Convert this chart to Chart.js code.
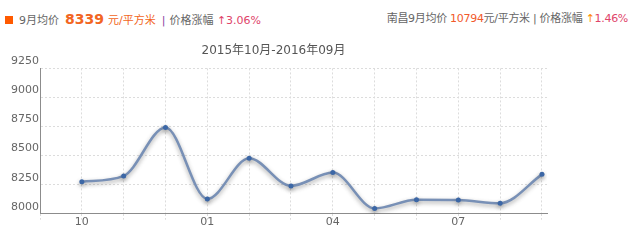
<!DOCTYPE html>
<html>
<head>
<meta charset="utf-8">
<script src="https://cdn.jsdelivr.net/npm/chart.js@4/dist/chart.umd.min.js"></script>
<style>
  body { margin: 0; background: #fff; width: 637px; height: 240px; overflow: hidden; position: relative;
         font-family: "DejaVu Sans", "Noto Sans CJK SC", sans-serif; }
  #chart-wrap { position: absolute; left: 0; top: 0; width: 637px; height: 240px; }
  .hdr { position: absolute; top: 10px; font-size: 11px; color: #666; white-space: nowrap; line-height: 18px; }
  #hdr-left { left: 5px; }
  #hdr-right { right: 9px; letter-spacing: -0.3px; }
  .sq { display: inline-block; width: 8px; height: 8px; background: #ff5a00; margin-right: 6px; vertical-align: 0px; }
  .big { font-weight: bold; font-size: 14px; color: #f26522; margin: 0 4px 0 6px; }
  .unit { color: #f26522; }
  .bar { color: #8a3fa0; margin: 0 4px 0 6px; }
  .up { color: #e0446a; }
  .up2 { color: #ff8a00; }
  .num2 { color: #f25a2a; }
</style>
</head>
<body>
<div class="hdr" id="hdr-left"><span class="sq"></span>9月均价<span class="big">8339</span><span class="unit">元/平方米</span><span class="bar">|</span>价格涨幅 <span class="up">↑3.06%</span></div>
<div class="hdr" id="hdr-right">南昌9月均价 <span class="num2">10794</span>元/平方米 | 价格涨幅 <span class="up2">↑</span><span class="up">1.46%</span></div>
<div id="chart-wrap"><canvas id="line-chart" width="637" height="240"></canvas></div>
<script>
  // 2015年10月 ~ 2016年09月 月均价
  var months = ["10", "11", "12", "01", "02", "03", "04", "05", "06", "07", "08", "09"];
  var prices = [8276, 8326, 8742, 8128, 8477, 8240, 8354, 8046, 8120, 8118, 8091, 8339];
  var shownMonths = ["10", "01", "04", "07"];
  var yTicks = [8000, 8250, 8500, 8750, 9000, 9250];

  var points = prices.map(function(v, i) { return { x: i + 1, y: v }; });

  // 선 그림자
  var shadow = {
    id: 'shadow',
    beforeDatasetDraw: function(chart) {
      var ctx = chart.ctx;
      ctx.save();
      ctx.shadowColor = 'rgba(60,60,60,0.45)';
      ctx.shadowBlur = 4;
      ctx.shadowOffsetY = 2;
    },
    afterDatasetDraw: function(chart) {
      chart.ctx.restore();
    }
  };

  var data_ = {
    datasets: [{
      data: points,
      borderColor: "#7890b6",
      borderWidth: 2.5,
      cubicInterpolationMode: 'monotone',
      fill: false,
      pointRadius: 2.5,
      pointBackgroundColor: "#3c67a6",
      pointBorderColor: "#3c67a6",
      pointBorderWidth: 0
    }]
  };

  var options_ = {
    responsive: false,
    animation: false,
    layout: { padding: { top: 38, right: 90, left: 0, bottom: 15 } },
    plugins: {
      legend: { display: false },
      tooltip: { enabled: false },
      title: {
        display: true,
        text: '2015年10月-2016年09月',
        color: '#555',
        font: { family: '"DejaVu Sans", "Noto Sans CJK SC"', size: 12, weight: 'normal' },
        padding: { top: 6, bottom: 10 }
      }
    },
    scales: {
      x: {
        type: 'linear',
        min: 0,
        max: 12.12,
        afterBuildTicks: function(axis) {
          axis.ticks = months.map(function(m, i) { return { value: i + 1 }; });
          axis.ticks.unshift({ value: 0 });
        },
        ticks: {
          color: '#666',
          font: { family: '"DejaVu Sans"', size: 11 },
          padding: -4,
          maxRotation: 0,
          autoSkip: false,
          callback: function(v) {
            var m = months[v - 1];
            return shownMonths.indexOf(m) >= 0 ? m : '';
          }
        },
        grid: { color: '#dcdcdc', tickLength: 6, tickColor: '#dcdcdc', tickBorderDash: [2, 2] },
        border: { color: '#8c8c8c', width: 1, dash: [2, 2] }
      },
      y: {
        min: 8000,
        max: 9250,
        afterBuildTicks: function(axis) {
          axis.ticks = yTicks.map(function(v) { return { value: v }; });
        },
        afterFit: function(axis) { axis.width = 40; },
        ticks: {
          color: '#666',
          font: { family: '"DejaVu Sans"', size: 11 },
          padding: 1,
          labelOffset: -7,
          callback: function(v) { return String(v); }
        },
        grid: { color: '#dcdcdc', drawTicks: false },
        border: { color: '#8c8c8c', width: 1, dash: [2, 2] }
      }
    }
  };

  new Chart(document.getElementById("line-chart"), {
    type: 'line',
    data: data_,
    options: options_,
    plugins: [shadow]
  });
</script>
</body>
</html>
